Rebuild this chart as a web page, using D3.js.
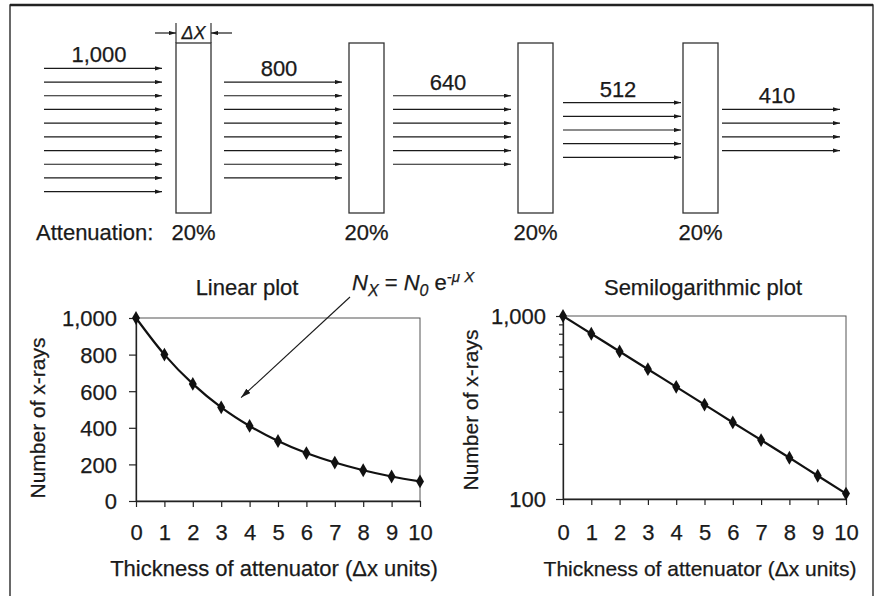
<!DOCTYPE html>
<html>
<head>
<meta charset="utf-8">
<script src="https://cdn.jsdelivr.net/npm/d3@7"></script>
<style>
  body { margin: 0; background: #fff; }
  svg { display: block; }
  text { font-family: "Liberation Sans", Arial, Helvetica, sans-serif; fill: #1a1a1a; stroke: #1a1a1a; stroke-width: 0.25px; }
</style>
</head>
<body>
<svg id="chart" width="875" height="596"></svg>
<script>
// ---- Data ----
const thickness = [0, 1, 2, 3, 4, 5, 6, 7, 8, 9, 10];
const xrayCounts = [1000, 800, 640, 512, 410, 328, 262, 210, 168, 134, 107];
const beamLabels = ["1,000", "800", "640", "512", "410"];
const arrowsPerBeam = [10, 8, 6, 5, 4];
const attenuationLabels = ["20%", "20%", "20%", "20%"];
const linearTicks = [0, 200, 400, 600, 800, 1000];
const logTicks = [100, 200, 300, 400, 500, 600, 700, 800, 900, 1000];
const logLabelled = [100, 1000];
const xTicks = [0, 1, 2, 3, 4, 5, 6, 7, 8, 9, 10];

const points = thickness.map((t, i) => ({ t, n: xrayCounts[i] }));

const svg = d3.select("#chart");
const ink = "#1a1a1a";

// arrowheads
const defs = svg.append("defs");
defs.append("marker")
  .attr("id", "head")
  .attr("viewBox", "0 0 10 6")
  .attr("refX", 10).attr("refY", 3)
  .attr("markerUnits", "userSpaceOnUse")
  .attr("markerWidth", 7).attr("markerHeight", 4.5)
  .attr("orient", "auto")
  .append("path").attr("d", "M0,0L10,3L0,6Z").attr("fill", ink);
defs.append("marker")
  .attr("id", "headBig")
  .attr("viewBox", "0 0 10 6")
  .attr("refX", 10).attr("refY", 3)
  .attr("markerUnits", "userSpaceOnUse")
  .attr("markerWidth", 10).attr("markerHeight", 6)
  .attr("orient", "auto")
  .append("path").attr("d", "M0,0L10,3L0,6Z").attr("fill", ink);

// outer frame
svg.append("rect")
  .attr("x", 10).attr("y", 5).attr("width", 863).attr("height", 640)
  .attr("fill", "none").attr("stroke", "#2a2a2a").attr("stroke-width", 1.4);
svg.append("line")
  .attr("x1", 10).attr("x2", 873).attr("y1", 5).attr("y2", 5)
  .attr("stroke", "#222").attr("stroke-width", 2.4);

// ---- Beam / attenuator diagram ----
const beamX = d3.scaleLinear().domain([0, 1, 2, 3, 4]).range([44, 224, 393, 563, 722]);
const slabX = d3.scaleLinear().domain([0, 1, 2, 3]).range([176, 349, 518, 683]);
const rowY = d3.scaleLinear().domain([-1, 1]).range([130 - 13.7, 130 + 13.7]);
const beamLen = 118, slabW = 35, slabTop = 43, slabBottom = 213;

const beams = svg.append("g").attr("class", "beams");
arrowsPerBeam.forEach((n, b) => {
  const g = beams.append("g");
  const rows = d3.range(n).map(j => j - (n - 1) / 2);
  g.selectAll("line").data(rows).join("line")
    .attr("x1", beamX(b)).attr("x2", beamX(b) + beamLen)
    .attr("y1", d => rowY(d)).attr("y2", d => rowY(d))
    .attr("stroke", ink).attr("stroke-width", 1.2)
    .attr("marker-end", "url(#head)");
  g.append("text")
    .attr("x", beamX(b) + beamLen / 2 - 4)
    .attr("y", rowY(rows[0]) - 6)
    .attr("text-anchor", "middle")
    .attr("font-size", 22)
    .text(beamLabels[b]);
});

const slabs = svg.append("g").attr("class", "slabs");
slabs.selectAll("rect").data(attenuationLabels).join("rect")
  .attr("x", (d, i) => slabX(i)).attr("y", slabTop)
  .attr("width", slabW).attr("height", slabBottom - slabTop)
  .attr("fill", "#fff").attr("stroke", "#333").attr("stroke-width", 1.3);
slabs.selectAll("text").data(attenuationLabels).join("text")
  .attr("x", (d, i) => slabX(i) + slabW / 2)
  .attr("y", 240)
  .attr("text-anchor", "middle")
  .attr("font-size", 22)
  .text(d => d);
svg.append("text")
  .attr("x", 36).attr("y", 240)
  .attr("font-size", 22)
  .text("Attenuation:");

// thickness dimension above the first slab
const dim = svg.append("g");
const s0 = slabX(0), s1 = slabX(0) + slabW, dimY = 33;
[s0, s1].forEach(x => dim.append("line")
  .attr("x1", x).attr("x2", x).attr("y1", 23).attr("y2", slabTop)
  .attr("stroke", "#333").attr("stroke-width", 1.2));
dim.append("line").attr("x1", s0 - 21).attr("x2", s0).attr("y1", dimY).attr("y2", dimY)
  .attr("stroke", ink).attr("stroke-width", 1.2).attr("marker-end", "url(#head)");
dim.append("line").attr("x1", s1 + 21).attr("x2", s1).attr("y1", dimY).attr("y2", dimY)
  .attr("stroke", ink).attr("stroke-width", 1.2).attr("marker-end", "url(#head)");
dim.append("text")
  .attr("x", (s0 + s1) / 2).attr("y", 38.5)
  .attr("text-anchor", "middle")
  .attr("font-size", 18).attr("font-style", "italic")
  .text("\u0394X");

// ---- Plots ----
function drawPlot(o) {
  const g = svg.append("g");
  const x = d3.scaleLinear().domain([0, 10]).range([o.left, o.right]);
  const y = o.y;

  // plot frame
  g.append("rect")
    .attr("x", o.left).attr("y", y.range()[1])
    .attr("width", o.right - o.left).attr("height", y.range()[0] - y.range()[1])
    .attr("fill", "none").attr("stroke", "#555").attr("stroke-width", 1);

  const yAxis = g.append("g")
    .attr("transform", `translate(${o.left},0)`)
    .call(o.yAxis);
  const xAxis = g.append("g")
    .attr("transform", `translate(0,${y.range()[0]})`)
    .call(d3.axisBottom(x).tickValues(xTicks).tickSize(6).tickSizeOuter(0));

  [yAxis, xAxis].forEach(a => {
    a.select(".domain").attr("stroke", "#222").attr("stroke-width", 1.3);
    a.selectAll(".tick line").attr("stroke", "#222").attr("stroke-width", 1.2);
    a.selectAll("text").attr("font-size", 22).attr("fill", ink)
      .attr("font-family", "\"Liberation Sans\", Arial, sans-serif");
  });
  xAxis.selectAll(".tick text").attr("y", 540 - y.range()[0]).attr("dy", 0);
  yAxis.selectAll(".tick text").attr("x", o.labelX).attr("dy", "0.36em");
  if (o.after) o.after(yAxis);

  // data curve and markers
  g.append("path").datum(points)
    .attr("d", d3.line().x(d => x(d.t)).y(d => y(d.n)).curve(d3.curveMonotoneX))
    .attr("fill", "none").attr("stroke", "#111").attr("stroke-width", 2.2);
  g.selectAll(".pt").data(points).join("path")
    .attr("class", "pt")
    .attr("transform", d => `translate(${x(d.t)},${y(d.n)})`)
    .attr("d", d3.symbol().type(d3.symbolDiamond).size(55))
    .attr("fill", "#111");

  // titles
  g.append("text").attr("x", o.titleX).attr("y", 295)
    .attr("text-anchor", "middle").attr("font-size", 22).text(o.title);
  g.append("text").attr("x", o.xTitleX).attr("y", 576)
    .attr("text-anchor", "middle").attr("font-size", o.xTitleSize)
    .text("Thickness of attenuator (\u0394x units)");
  g.append("text")
    .attr("transform", `translate(${o.yTitleX},${o.yTitleY}) rotate(-90)`)
    .attr("text-anchor", "middle").attr("font-size", 21)
    .text("Number of x-rays");
  return { x, y };
}

const yLin = d3.scaleLinear().domain([0, 1000]).range([501, 318]);
const linPlot = drawPlot({
  left: 136, right: 420, y: yLin,
  yAxis: d3.axisLeft(yLin).tickValues(linearTicks).tickFormat(d3.format(",")).tickSize(7).tickSizeOuter(0),
  labelX: -19,
  title: "Linear plot", titleX: 247,
  xTitleX: 274, xTitleSize: 22,
  yTitleX: 45, yTitleY: 418
});

const yLog = d3.scaleLog().domain([100, 1000]).range([499, 316]);
drawPlot({
  left: 563, right: 846, y: yLog,
  yAxis: d3.axisLeft(yLog).tickValues(logTicks)
    .tickFormat(d => logLabelled.includes(d) ? d3.format(",")(d) : "")
    .tickSize(4).tickSizeOuter(0),
  labelX: -17,
  after: a => a.selectAll(".tick").filter(d => logLabelled.includes(d))
    .select("line").attr("x2", -7),
  title: "Semilogarithmic plot", titleX: 703,
  xTitleX: 700, xTitleSize: 21,
  yTitleX: 478, yTitleY: 410
});

// ---- Equation with pointer ----
const eq = svg.append("text").attr("x", 352).attr("y", 290).attr("font-size", 22);
eq.append("tspan").attr("font-style", "italic").text("N");
eq.append("tspan").attr("font-style", "italic").attr("font-size", 16).attr("dy", 6).text("X");
eq.append("tspan").attr("dy", -6).text(" = ");
eq.append("tspan").attr("font-style", "italic").text("N");
eq.append("tspan").attr("font-style", "italic").attr("font-size", 16).attr("dy", 6).text("0");
eq.append("tspan").attr("dy", -6).text(" e");
eq.append("tspan").attr("font-style", "italic").attr("font-size", 15).attr("dy", -8).text("-\u03BC X");

svg.append("line")
  .attr("x1", 350).attr("y1", 297)
  .attr("x2", linPlot.x(3.7)).attr("y2", yLin(565))
  .attr("stroke", ink).attr("stroke-width", 1.1)
  .attr("marker-end", "url(#headBig)");
</script>
</body>
</html>
